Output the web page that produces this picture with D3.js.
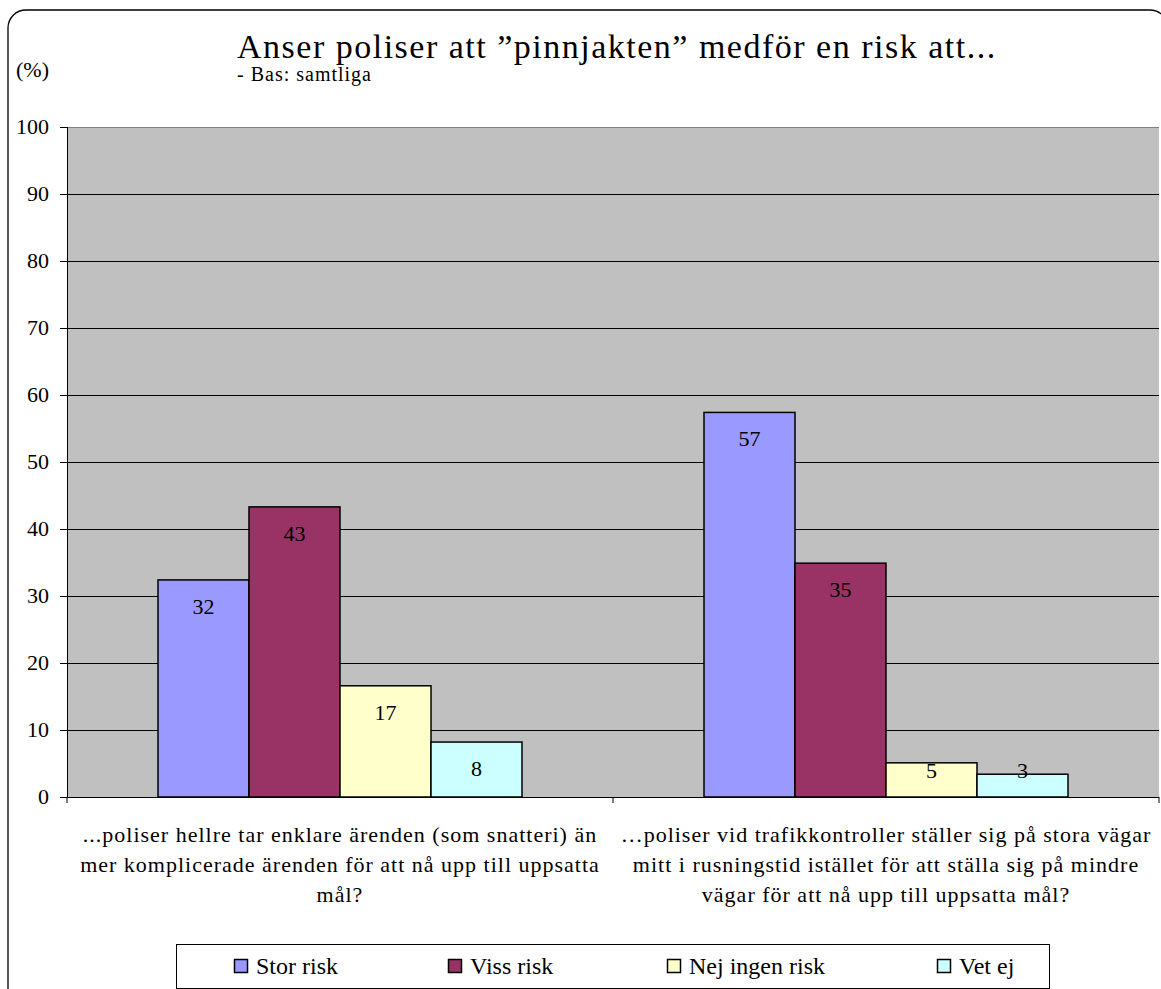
<!DOCTYPE html>
<html>
<head>
<meta charset="utf-8">
<script src="https://cdn.jsdelivr.net/npm/d3@7"></script>
<style>
  body { margin: 0; background: #fff; }
</style>
</head>
<body>
<svg id="chart" width="1161" height="989"></svg>
<script>
const categories = [
    ["...poliser hellre tar enklare ärenden (som snatteri) än", "mer komplicerade ärenden för att nå upp till uppsatta", "mål?"],
    ["…poliser vid trafikkontroller ställer sig på stora vägar", "mitt i rusningstid istället för att ställa sig på mindre", "vägar för att nå upp till uppsatta mål?"]
];
const seriesNames = ["Stor risk", "Viss risk", "Nej ingen risk", "Vet ej"];
const seriesColors = ["#9999FF", "#993366", "#FFFFCC", "#CCFFFF"];
const storRisk = [32.4, 57.4];
const vissRisk = [43.3, 34.9];
const nejIngenRisk = [16.6, 5.1];
const vetEj = [8.2, 3.4];
const yTicks = [0, 10, 20, 30, 40, 50, 60, 70, 80, 90, 100];

const seriesValues = [storRisk, vissRisk, nejIngenRisk, vetEj];

const plot = {left: 67, right: 1159, top: 127, bottom: 797};

const svg = d3.select("#chart");

const y = d3.scaleLinear().domain([0, 100]).range([plot.bottom, plot.top]);
const x0 = d3.scaleBand().domain(d3.range(categories.length)).range([plot.left, plot.right]);
const x1 = d3.scaleBand().domain(d3.range(seriesNames.length))
    .range([0, x0.bandwidth()]).paddingOuter(1);

// all texts first, same way as a plain text page
const texts = svg.append("g").attr("class", "texts");

function label(x, yy, size, str, anchor, spacing) {
    return texts.append("text")
        .attr("x", x).attr("y", yy)
        .style("font-family", "Liberation Serif")
        .style("font-size", size + "px")
        .style("letter-spacing", (spacing || 0) + "px")
        .attr("text-anchor", anchor || "start")
        .text(str);
}

// outer frame with rounded corners
svg.insert("rect", ".texts")
    .attr("x", 8).attr("y", 10)
    .attr("width", 1160).attr("height", 1000)
    .attr("rx", 18)
    .attr("fill", "none")
    .attr("stroke", "#000")
    .attr("stroke-width", 1.3);

// plot background
svg.insert("rect", ".texts")
    .attr("x", plot.left).attr("y", plot.top)
    .attr("width", plot.right - plot.left).attr("height", plot.bottom - plot.top)
    .attr("fill", "#C0C0C0");

// gridlines
svg.insert("g", ".texts")
    .selectAll("line")
    .data(yTicks.filter(d => d > 0))
    .enter().append("line")
    .attr("x1", plot.left).attr("x2", plot.right)
    .attr("y1", d => Math.round(y(d)) + 0.5).attr("y2", d => Math.round(y(d)) + 0.5)
    .attr("stroke", d => d === 100 ? "#808080" : "#000");

// y axis line and ticks
const axis = svg.insert("g", ".texts");
axis.append("line")
    .attr("x1", plot.left + 0.5).attr("x2", plot.left + 0.5)
    .attr("y1", plot.top).attr("y2", plot.bottom)
    .attr("stroke", "#000");
axis.selectAll("line.yt")
    .data(yTicks)
    .enter().append("line")
    .attr("class", "yt")
    .attr("x1", plot.left - 7).attr("x2", plot.left)
    .attr("y1", d => Math.round(y(d)) + 0.5).attr("y2", d => Math.round(y(d)) + 0.5)
    .attr("stroke", "#000");
yTicks.forEach(t => label(plot.left - 18, y(t) + 7, 22, String(t), "end"));

// x axis line and ticks
axis.append("line")
    .attr("x1", plot.left).attr("x2", plot.right)
    .attr("y1", plot.bottom + 0.5).attr("y2", plot.bottom + 0.5)
    .attr("stroke", "#000");
axis.selectAll("line.xt")
    .data(d3.range(categories.length + 1))
    .enter().append("line")
    .attr("class", "xt")
    .attr("x1", d => plot.left + d * x0.bandwidth())
    .attr("x2", d => plot.left + d * x0.bandwidth())
    .attr("y1", plot.bottom).attr("y2", plot.bottom + 6)
    .attr("stroke", "#000");

// bars
const barData = [];
categories.forEach((c, i) => seriesValues.forEach((s, k) => barData.push({i: i, k: k, v: s[i]})));

svg.insert("g", ".texts").selectAll("rect")
    .data(barData)
    .enter().append("rect")
    .attr("x", d => x0(d.i) + x1(d.k))
    .attr("y", d => y(d.v))
    .attr("width", x1.bandwidth())
    .attr("height", d => y(0) - y(d.v))
    .attr("fill", d => seriesColors[d.k])
    .attr("stroke", "#000")
    .attr("stroke-width", 1.5);

barData.forEach(d => label(x0(d.i) + x1(d.k) + x1.bandwidth() / 2,
    Math.min(y(d.v) + 34, plot.bottom - 19), 22, d3.format(".0f")(d.v), "middle"));

// category labels
categories.forEach((lines, i) => lines.forEach((l, j) =>
    label(x0(i) + x0.bandwidth() / 2, 842 + j * 30, 22, l, "middle", 1)));

// titles
label(237, 58, 34, "Anser poliser att ”pinnjakten” medför en risk att...", "start", 1.5);
label(237, 81, 20, "- Bas: samtliga", "start", 1);
label(16, 77, 22, "(%)");

// legend
svg.insert("rect", ".texts")
    .attr("x", 176.5).attr("y", 944.5)
    .attr("width", 873).attr("height", 44)
    .attr("fill", "#fff")
    .attr("stroke", "#000");
const legendX = [234, 448, 667, 937];
svg.insert("g", ".texts").selectAll("rect")
    .data(seriesNames)
    .enter().append("rect")
    .attr("x", (d, i) => legendX[i] + 0.5).attr("y", 959.5)
    .attr("width", 13).attr("height", 13)
    .attr("fill", (d, i) => seriesColors[i])
    .attr("stroke", "#000")
    .attr("stroke-width", 1.5);
seriesNames.forEach((n, i) => label(legendX[i] + 22, 974, 24, n));
</script>
</body>
</html>
